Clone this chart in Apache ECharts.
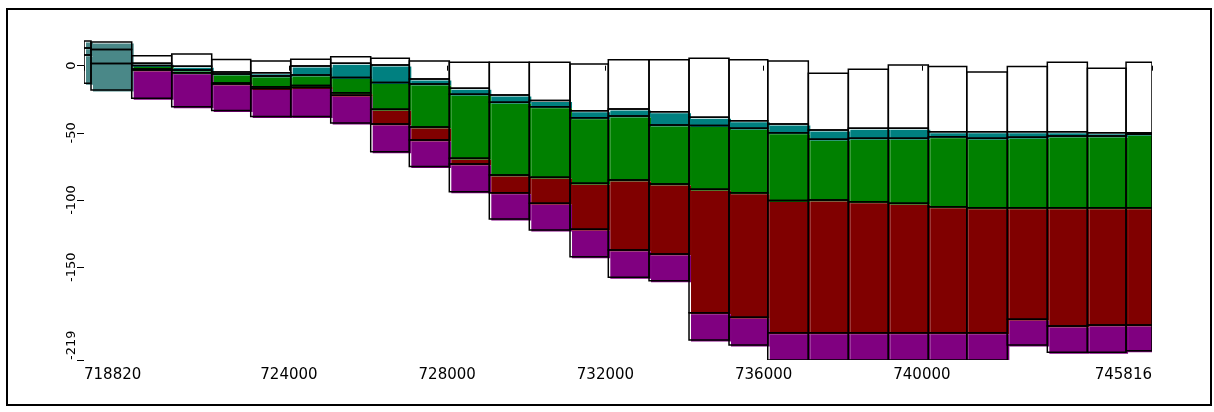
<!DOCTYPE html>
<html>
<head>
<meta charset="utf-8">
<script src="https://cdn.jsdelivr.net/npm/echarts@6/dist/echarts.min.js"></script>
<style>
  html, body { margin: 0; padding: 0; background: #fff; }
  #chart { width: 1214px; height: 412px; }
</style>
</head>
<body>
<div id="chart"></div>
<script>
// first two (spin-up) bins, drawn in grey teal
var spinEdges = [718820, 718997, 720026];
var spinTop = [18.4, 17.6];
var spinMid1 = [13.2, 12.1];
var spinMid2 = [8.0, 1.6];
var spinBottom = [-13.1, -18.1];

// regular bins
var binEdges = [720026, 721037, 722048, 723034, 724045, 725056, 726067, 727043, 728054, 729065,
	730076, 731105, 732073, 733102, 734113, 735124, 736103, 737129, 738140, 739151,
	740162, 741133, 742159, 743170, 744182, 745160, 745816];
var whiteTop = [7.4, 8.7, 4.6, 3.5, 4.8, 6.7, 5.5, 3.5, 2.5, 2.5, 2.5, 1.3, 4.5, 4.5, 5.5, 4.5, 3.5,
	-5.7, -2.7, 0.5, -0.7, -4.7, -0.7, 2.5, -1.9, 2.5];
var tealTop = [1.8, -0.4, -4.7, -5.3, -0.2, 1.8, 0.5, -9.9, -16.8, -21.8, -26.0, -33.5, -32.2, -34.2,
	-38.4, -40.9, -43.4, -47.8, -46.6, -46.6, -49.1, -49.1, -49.1, -49.1, -49.9, -49.9];
var greenTop = [0.1, -3.2, -6.2, -7.7, -6.9, -8.8, -12.5, -13.6, -21.3, -27.2, -30.5, -38.7, -37.4,
	-44.1, -44.6, -46.6, -49.9, -54.8, -54.0, -54.0, -52.8, -54.0, -53.3, -52.3, -52.3, -51.0];
var redTop = [-2.5, -5.2, -12.9, -15.6, -14.7, -20.1, -32.4, -45.6, -68.9, -81.3, -83.0, -87.5, -85.0,
	-88.0, -92.0, -94.5, -100.4, -99.9, -101.2, -102.4, -104.9, -105.7, -105.7, -105.7, -105.7, -105.7];
var purpleTop = [-3.2, -5.2, -13.6, -17.0, -16.2, -22.0, -43.4, -55.3, -73.1, -94.5, -102.4, -121.7,
	-137.1, -140.1, -183.8, -187.2, -198.7, -198.7, -198.7, -198.7, -198.7, -198.7, -188.7, -193.7,
	-192.9, -192.9];
var purpleBottom = [-24.3, -30.5, -33.3, -37.9, -37.9, -42.6, -64.0, -75.1, -93.8, -114.1, -122.2,
	-142.1, -157.4, -160.0, -204.1, -207.8, -219, -219, -219, -219, -219, -219, -207.8, -213.2,
	-213.2, -212.1];

var xTicks = [718820, 724000, 728000, 732000, 736000, 740000, 745816];
var yTicks = [-219, -150, -100, -50, 0];

var mainColors = [null, '#008080', '#008000', '#800000', '#800080'];
var spinColors = ['#4a8888', '#4a8888', '#4a8888'];

var mainData = [];
for (var i = 0; i < whiteTop.length; i++) {
	mainData.push([binEdges[i], binEdges[i + 1], whiteTop[i], tealTop[i], greenTop[i],
		redTop[i], purpleTop[i], purpleBottom[i]]);
}
var spinData = [];
for (var j = 0; j < spinTop.length; j++) {
	spinData.push([spinEdges[j], spinEdges[j + 1], spinTop[j], spinMid1[j], spinMid2[j], spinBottom[j]]);
}

// each segment: colour fill shifted a little, black outline on top
function makeRender(colors) {
	return function (params, api) {
		var x0 = api.value(0), x1 = api.value(1);
		var fills = [], lines = [];
		for (var k = 0; k < colors.length; k++) {
			var p0 = api.coord([x0, api.value(2 + k)]);
			var p1 = api.coord([x1, api.value(3 + k)]);
			var w = p1[0] - p0[0], h = p1[1] - p0[1];
			if (h <= 0) continue;
			if (colors[k]) {
				fills.push({
					type : 'rect',
					shape : { x : p0[0] + 2, y : p0[1] + 1.5, width : w, height : h },
					style : { fill : colors[k] }
				});
			}
			lines.push({
				type : 'rect',
				shape : { x : p0[0], y : p0[1], width : w, height : h },
				style : { fill : null, stroke : '#000', lineWidth : 1.5 }
			});
		}
		return { type : 'group', children : fills.concat(lines) };
	};
}

var option = {
	animation : false,
	backgroundColor : '#fff',
	grid : {
		left : 84,
		right : 62,
		top : 38.8,
		bottom : 52
	},
	xAxis : {
		type : 'value',
		min : 718820,
		max : 745816,
		axisLine : { show : false },
		splitLine : { show : false },
		axisTick : {
			show : true,
			length : 5,
			customValues : xTicks,
			lineStyle : { color : '#000', width : 1 }
		},
		axisLabel : {
			customValues : xTicks,
			formatter : function (v) { return String(v); },
			color : '#000',
			fontFamily : 'DejaVu Sans',
			fontSize : 15,
			margin : 8,
			alignMinLabel : 'left',
			alignMaxLabel : 'right'
		}
	},
	yAxis : {
		type : 'value',
		min : -219,
		max : 20,
		axisLine : { show : false },
		splitLine : { show : false },
		axisTick : {
			show : true,
			length : 7,
			customValues : yTicks,
			lineStyle : { color : '#000', width : 1 }
		},
		axisLabel : {
			customValues : yTicks,
			formatter : function (v) { return String(v); },
			rotate : 90,
			color : '#000',
			fontFamily : 'DejaVu Sans',
			fontSize : 13,
			margin : 6,
			alignMinLabel : 'left'
		}
	},
	graphic : [ {
		type : 'rect',
		shape : { x : 7, y : 9, width : 1204, height : 396 },
		style : { fill : null, stroke : '#000', lineWidth : 2 },
		z : 100
	} ],
	series : [ {
		type : 'custom',
		clip : true,
		renderItem : makeRender(spinColors),
		encode : { x : [0, 1], y : [2, 3, 4, 5] },
		data : spinData
	}, {
		type : 'custom',
		clip : true,
		renderItem : makeRender(mainColors),
		encode : { x : [0, 1], y : [2, 3, 4, 5, 6, 7] },
		data : mainData
	} ]
};

var myChart = echarts.init(document.getElementById('chart'));
myChart.setOption(option);
</script>
</body>
</html>
